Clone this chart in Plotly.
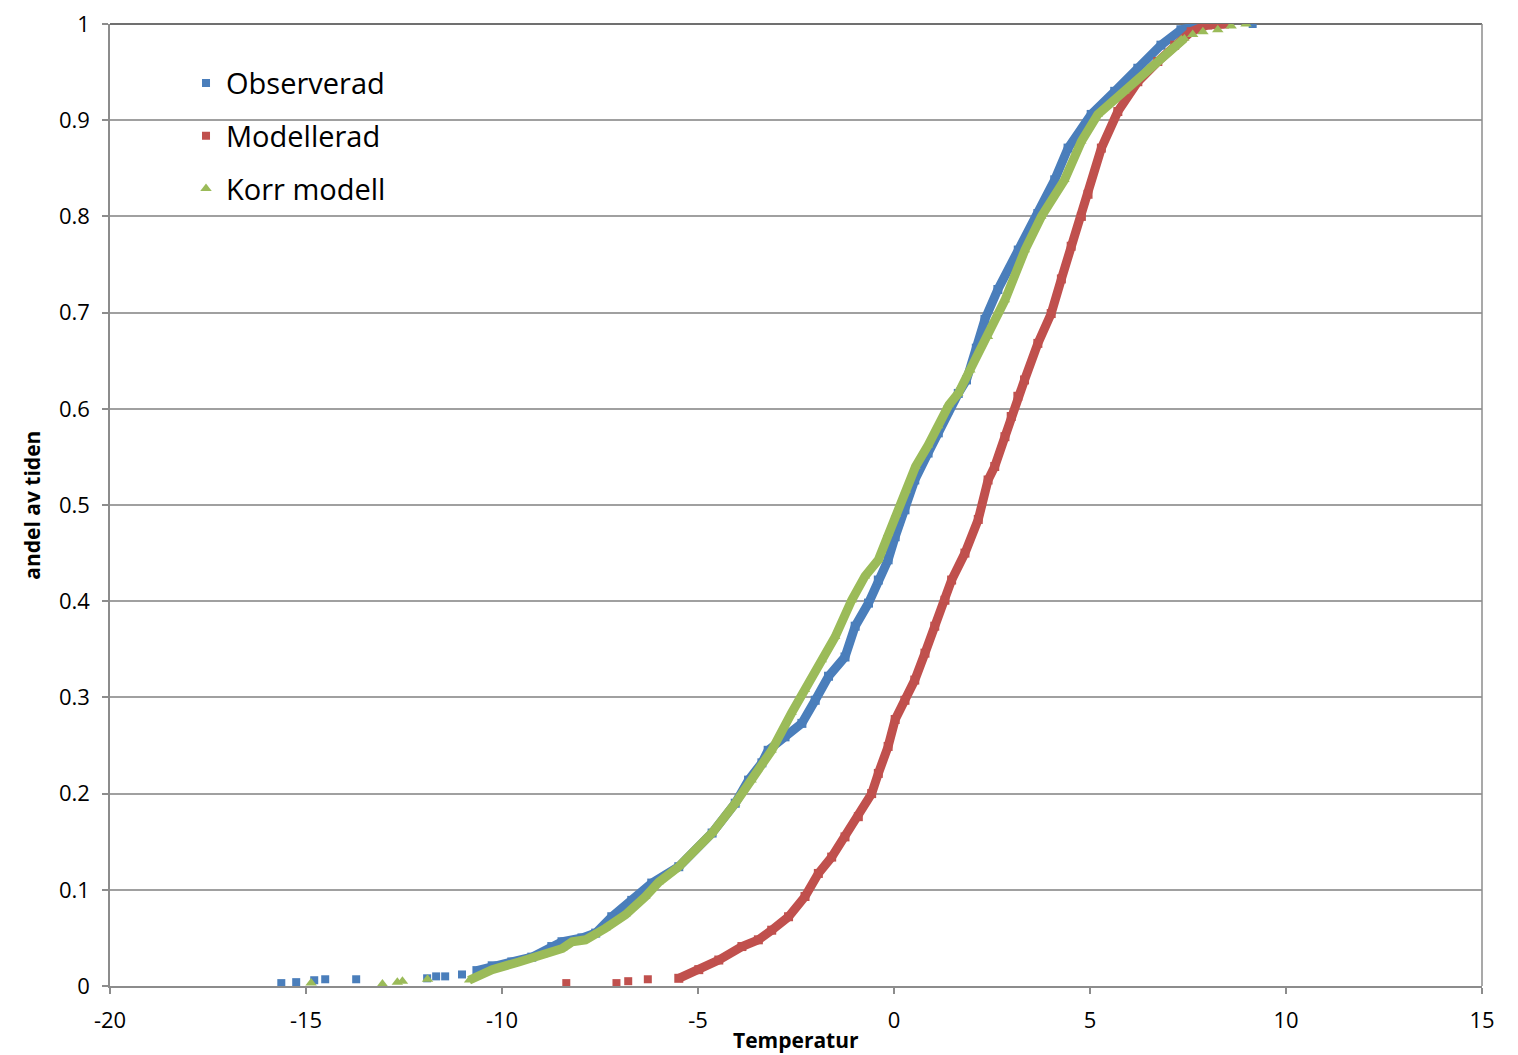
import plotly.graph_objects as go

# ---------------- data ----------------
# Observerad (blue squares)
obs_sparse_x = [-15.63, -15.25, -14.79, -14.51, -13.72, -11.91, -11.68, -11.45, -11.02]
obs_sparse_y = [0.003, 0.004, 0.006, 0.007, 0.007, 0.008, 0.010, 0.010, 0.012]
obs_x = [-10.64, -10.25, -9.75, -9.24, -8.73, -8.47, -7.96, -7.61, -7.20, -6.69, -6.18,
         -5.49, -4.64, -4.05, -3.71, -3.37, -3.21, -2.78, -2.35, -2.01, -1.67, -1.25,
         -0.99, -0.65, -0.40, -0.15, 0.03, 0.28, 0.53, 0.87, 1.13, 1.38, 1.64, 1.85,
         2.10, 2.32, 2.65, 3.17, 3.67, 4.10, 4.44, 5.03, 5.63, 6.22, 6.81, 7.32, 7.92]
obs_y = [0.016, 0.021, 0.025, 0.030, 0.041, 0.046, 0.050, 0.055, 0.072, 0.089, 0.107,
         0.124, 0.159, 0.190, 0.214, 0.232, 0.245, 0.259, 0.273, 0.297, 0.322, 0.342,
         0.374, 0.398, 0.422, 0.443, 0.467, 0.495, 0.526, 0.554, 0.575, 0.599, 0.616, 0.630,
         0.663, 0.693, 0.724, 0.765, 0.803, 0.838, 0.871, 0.906, 0.930, 0.954, 0.978, 0.994, 1.000]
obs_top_x = [9.15]
obs_top_y = [1.000]

# Modellerad (red squares)
mod_sparse_x = [-8.36, -7.08, -6.78, -6.28]
mod_sparse_y = [0.003, 0.003, 0.005, 0.007]
mod_x = [-5.49, -4.98, -4.47, -3.88, -3.46, -3.12, -2.69, -2.27, -1.93, -1.59, -1.25,
         -0.91, -0.57, -0.40, -0.15, 0.03, 0.28, 0.53, 0.79, 1.04, 1.30, 1.47, 1.81,
         2.15, 2.40, 2.57, 2.83, 2.99, 3.16, 3.33, 3.67, 4.01, 4.27, 4.52, 4.78, 4.95,
         5.29, 5.71, 6.22, 6.73, 7.16, 7.58, 8.00, 8.43]
mod_y = [0.008, 0.017, 0.027, 0.041, 0.048, 0.058, 0.072, 0.093, 0.117, 0.134, 0.155,
         0.176, 0.200, 0.221, 0.249, 0.277, 0.297, 0.318, 0.346, 0.374, 0.401, 0.422, 0.450,
         0.485, 0.526, 0.540, 0.571, 0.592, 0.613, 0.630, 0.668, 0.699, 0.735, 0.769, 0.800, 0.823,
         0.871, 0.909, 0.940, 0.961, 0.978, 0.992, 0.999, 1.000]

# Korr modell (green triangles)
kor_sparse_x = [-14.87, -13.05, -12.67, -12.54, -11.90]
kor_sparse_y = [0.003, 0.002, 0.004, 0.005, 0.007]
kor_x = [-10.84, -10.25, -9.57, -8.97, -8.46, -8.21, -7.87, -7.36, -6.85, -6.34, -6.00,
         -5.49, -4.64, -4.05, -3.63, -3.37, -3.12, -2.61, -2.27, -1.84, -1.50, -1.08,
         -0.74, -0.40, -0.15, 0.05, 0.30, 0.55, 0.87, 1.13, 1.40, 1.64, 1.95, 2.40,
         2.83, 3.34, 3.76, 4.35, 4.78, 5.20, 5.88, 6.48, 7.07, 7.41]
kor_y = [0.006, 0.017, 0.025, 0.032, 0.039, 0.046, 0.048, 0.060, 0.074, 0.093, 0.108,
         0.124, 0.159, 0.190, 0.214, 0.232, 0.245, 0.284, 0.308, 0.339, 0.363, 0.401,
         0.426, 0.443, 0.470, 0.490, 0.515, 0.540, 0.562, 0.582, 0.604, 0.616, 0.640, 0.675,
         0.713, 0.765, 0.800, 0.838, 0.878, 0.906, 0.930, 0.954, 0.975, 0.985]
kor_top_x = [7.62, 7.88, 8.26, 8.60, 8.98]
kor_top_y = [0.989, 0.992, 0.994, 0.998, 1.000]

x_ticks = [-20, -15, -10, -5, 0, 5, 10, 15]
x_ticktext = ["-20", "-15", "-10", "-5", "0", "5", "10", "15"]
y_ticks = [0, 0.1, 0.2, 0.3, 0.4, 0.5, 0.6, 0.7, 0.8, 0.9, 1]
y_ticktext = ["0", "0.1", "0.2", "0.3", "0.4", "0.5", "0.6", "0.7", "0.8", "0.9", "1"]

series = [
    ("Observerad", "#4A7EBB", "square", obs_sparse_x + obs_top_x, obs_sparse_y + obs_top_y, obs_x, obs_y),
    ("Modellerad", "#C0504D", "square", mod_sparse_x, mod_sparse_y, mod_x, mod_y),
    ("Korr modell", "#9BBB59", "triangle-up", kor_sparse_x + kor_top_x, kor_sparse_y + kor_top_y, kor_x, kor_y),
]

FONT = "Open Sans, Noto Sans, sans-serif"

fig = go.Figure()
for name, col, sym, sx, sy, dx, dy in series:
    fig.add_trace(go.Scatter(
        x=dx, y=dy, mode="lines+markers", name=name, legendgroup=name,
        showlegend=False,
        line=dict(color=col, width=9),
        marker=dict(color=col, symbol=sym, size=9, line=dict(width=0)),
        hoverinfo="x+y",
    ))
    fig.add_trace(go.Scatter(
        x=sx, y=sy, mode="markers", name=name, legendgroup=name,
        marker=dict(color=col, symbol=sym, size=8 if sym == "square" else 10, line=dict(width=0)),
    ))

fig.update_layout(
    width=1510, height=1047,
    margin=dict(l=102, r=36, t=16, b=69),
    paper_bgcolor="white",
    plot_bgcolor="white",
    font=dict(family=FONT, size=22, color="#000000"),
    showlegend=True,
    legend=dict(
        x=0.0554, y=0.965, xanchor="left", yanchor="top",
        bgcolor="rgba(0,0,0,0)", borderwidth=0,
        font=dict(family=FONT, size=29, color="#000000"),
        itemsizing="trace", tracegroupgap=12, itemwidth=30,
    ),
    xaxis=dict(
        range=[-20, 15], tickvals=x_ticks, ticktext=x_ticktext,
        showgrid=False, zeroline=False, automargin=False,
        showline=True, linecolor="#8C8C8C", linewidth=1.5,
        ticks="outside", ticklen=6, tickcolor="#8C8C8C", tickwidth=1.5,
        tickfont=dict(family=FONT, size=22, color="#000000"),
        ticklabelstandoff=8, ticklabeloverflow="allow",
    ),
    yaxis=dict(
        range=[0, 1], tickvals=y_ticks, ticktext=y_ticktext,
        showgrid=True, gridcolor="#A0A0A0", gridwidth=1.5,
        zeroline=False, automargin=False,
        showline=True, linecolor="#8C8C8C", linewidth=1.5,
        ticks="outside", ticklen=6, tickcolor="#8C8C8C", tickwidth=1.5,
        tickfont=dict(family=FONT, size=22, color="#000000"),
        ticklabelstandoff=8, ticklabeloverflow="allow",
    ),
    shapes=[
        dict(type="line", xref="paper", yref="paper", x0=1, x1=1, y0=0, y1=1,
             line=dict(color="#8C8C8C", width=1.5), layer="above"),
        dict(type="line", xref="paper", yref="paper", x0=0, x1=1, y0=1, y1=1,
             line=dict(color="#404040", width=1.5), layer="below"),
    ],
    annotations=[
        dict(text="<b>Temperatur</b>", xref="paper", yref="paper", x=0.5, y=-0.056,
             xanchor="center", yanchor="middle", showarrow=False,
             font=dict(family=FONT, size=21, color="#000000")),
        dict(text="<b>andel av tiden</b>", xref="paper", yref="paper", x=-0.057, y=0.5,
             xanchor="center", yanchor="middle", showarrow=False, textangle=-90,
             font=dict(family=FONT, size=21, color="#000000")),
    ],
)

fig.write_html("out.html")
